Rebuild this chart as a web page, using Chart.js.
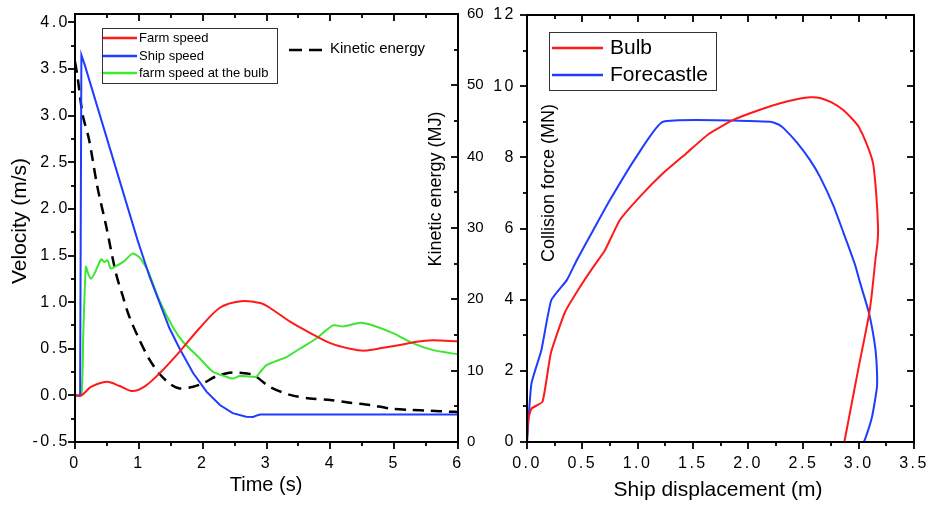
<!DOCTYPE html>
<html>
<head>
<meta charset="utf-8">
<script src="https://cdn.jsdelivr.net/npm/chart.js@4.4.0/dist/chart.umd.min.js"></script>
<style>
  html, body { margin: 0; padding: 0; background: #fff; }
  #wrap { position: relative; width: 928px; height: 505px; overflow: hidden; }
  #velChart { position: absolute; left: 0; top: 0; }
  #forceChart { position: absolute; left: 460px; top: 0; }
</style>
</head>
<body>
<div id="wrap">
  <canvas id="velChart" width="500" height="505"></canvas>
  <canvas id="forceChart" width="468" height="505"></canvas>
</div>
<script>
// left panel: velocities (m/s) and kinetic energy (MJ) against time (s)
const farmT = [0, 0.1, 0.25, 0.5, 0.7, 0.9, 1.1, 1.33, 1.64, 1.95, 2.27, 2.6, 2.9, 3.05, 3.37, 3.68, 4.0, 4.31, 4.54, 4.83, 5.09, 5.35, 5.6, 6.0];
const farmV = [0, 0, 0.09, 0.146, 0.1, 0.046, 0.1, 0.24, 0.47, 0.72, 0.94, 1.01, 0.99, 0.94, 0.79, 0.67, 0.56, 0.5, 0.48, 0.51, 0.54, 0.575, 0.59, 0.58];

const shipT = [0, 0.08, 0.1, 0.15, 0.98, 1.17, 1.48, 1.64, 1.85, 2.06, 2.27, 2.47, 2.68, 2.79, 2.85, 2.9, 6.0];
const shipV = [0, 0, 3.65, 3.55, 1.665, 1.27, 0.72, 0.5, 0.24, 0.04, -0.104, -0.19, -0.23, -0.232, -0.215, -0.205, -0.205];

const bulbT = [0, 0.1, 0.13, 0.17, 0.21, 0.25, 0.3, 0.41, 0.46, 0.51, 0.56, 0.64, 0.77, 0.9, 1.01, 1.14, 1.32, 1.53, 1.69, 1.95, 2.16, 2.37, 2.47, 2.58, 2.79, 2.84, 3.0, 3.31, 3.52, 3.78, 4.04, 4.2, 4.47, 4.67, 4.99, 5.3, 5.61, 6.0];
const bulbV = [0, 0, 0.67, 1.38, 1.3, 1.25, 1.3, 1.46, 1.43, 1.45, 1.36, 1.385, 1.44, 1.52, 1.48, 1.34, 1.02, 0.735, 0.575, 0.4, 0.253, 0.2, 0.18, 0.207, 0.2, 0.2, 0.325, 0.41, 0.5, 0.61, 0.75, 0.74, 0.78, 0.75, 0.665, 0.557, 0.485, 0.44];

const keT = [0, 0.04, 0.12, 0.22, 0.35, 0.49, 0.64, 0.75, 0.85, 1.01, 1.17, 1.32, 1.48, 1.64, 1.85, 2.0, 2.21, 2.42, 2.58, 2.79, 3.05, 3.37, 3.68, 4.0, 4.31, 4.62, 4.93, 5.25, 5.56, 5.87, 6.0];
const keE = [53.3, 51.2, 45.9, 42.4, 35.8, 30.2, 23.7, 20.4, 17.6, 14.3, 11.5, 9.6, 8.2, 7.5, 7.75, 8.2, 9.2, 9.7, 9.7, 9.4, 7.75, 6.6, 6.1, 5.9, 5.5, 5.2, 4.7, 4.5, 4.4, 4.25, 4.2];

// right panel: collision force (MN) against ship displacement (m)
const bulbDisp = [0, 0.01, 0.04, 0.14, 0.215, 0.345, 0.48, 0.6, 0.705, 0.84, 1.02, 1.23, 1.44, 1.64, 1.865, 2.1, 2.29, 2.45, 2.56, 2.65, 2.75, 2.86, 2.95, 3.0, 3.07, 3.13, 3.16, 3.175, 3.17, 3.15, 3.12, 3.09, 3.0, 2.87];
const bulbForce = [0, 0.6, 0.94, 1.13, 2.49, 3.66, 4.36, 4.92, 5.39, 6.24, 6.89, 7.55, 8.11, 8.65, 9.05, 9.33, 9.52, 9.64, 9.69, 9.67, 9.55, 9.33, 9.05, 8.86, 8.39, 7.83, 6.9, 6.0, 5.6, 5.1, 4.2, 3.52, 2.11, 0];

const foreDisp = [0, 0.04, 0.13, 0.22, 0.36, 0.45, 0.6, 0.75, 0.99, 1.23, 2.2, 2.27, 2.32, 2.44, 2.56, 2.65, 2.77, 2.86, 2.92, 2.97, 3.01, 3.09, 3.14, 3.16, 3.165, 3.12, 3.06, 3.04, 1.19];
const foreForce = [0, 1.64, 2.58, 3.99, 4.55, 5.11, 5.96, 6.8, 8.02, 9.0, 9.0, 8.93, 8.82, 8.42, 7.92, 7.45, 6.65, 5.9, 5.39, 4.95, 4.5, 3.66, 2.86, 2.3, 1.55, 0.7, 0.1, 0, 0];

const velLabels = ["Farm speed", "Ship speed", "farm speed at the bulb"];
const keLabel = "Kinetic energy";
const forceLabels = ["Bulb", "Forecastle"];

const RED = "#ff1a1a";
const BLUE = "#1f3cff";
const GREEN = "#3ee632";
const FONT = "'Liberation Sans', Arial, sans-serif";

Chart.defaults.font.family = FONT;
Chart.defaults.color = "#000";

const pts = (xs, ys) => xs.map((x, i) => ({ x: x, y: ys[i] }));

// keep the plot area where the figure has it, whatever the label widths
function fixSize(key, size) {
  return function (s) {
    s[key] = size;
    s.paddingLeft = 0;
    s.paddingRight = 0;
    s.paddingTop = 0;
    s.paddingBottom = 0;
  };
}

// frame round the plot area, with major and minor ticks (out on left/bottom, in on top/right)
const frameTicks = {
  id: "frameTicks",
  beforeDraw(chart) {
    // the figure's tick numbers are set wide
    chart.ctx.letterSpacing = "2.5px";
  },
  beforeDatasetsDraw(chart) {
    chart.ctx.letterSpacing = "0px";
  },
  afterDatasetsDraw(chart, args, opts) {
    const { ctx, chartArea: a } = chart;
    ctx.save();
    ctx.strokeStyle = "#000";
    ctx.lineWidth = 2;
    ctx.strokeRect(a.left, a.top, a.right - a.left, a.bottom - a.top);
    ctx.lineWidth = 1.8;
    opts.marks.forEach((m) => {
      const scale = chart.scales[m.scale];
      const vals = scale.ticks.map((t) => t.value);
      const list = [];
      vals.forEach((v, i) => {
        list.push([v, 7]);
        if (i < vals.length - 1) list.push([(v + vals[i + 1]) / 2, 4]);
      });
      list.forEach(([v, len]) => {
        const p = Math.round(scale.getPixelForValue(v));
        ctx.beginPath();
        if (m.side === "bottom") { ctx.moveTo(p, a.bottom); ctx.lineTo(p, a.bottom + len); }
        if (m.side === "top") { ctx.moveTo(p, a.top); ctx.lineTo(p, a.top + len); }
        if (m.side === "left") { ctx.moveTo(a.left, p); ctx.lineTo(a.left - len, p); }
        if (m.side === "right") { ctx.moveTo(a.right, p); ctx.lineTo(a.right - len, p); }
        ctx.stroke();
      });
    });
    ctx.restore();
  },
};

// axis titles and legends placed where the figure has them
const freeText = {
  id: "freeText",
  afterDraw(chart, args, opts) {
    const ctx = chart.ctx;
    ctx.save();
    ctx.letterSpacing = "0px";
    (opts.boxes || []).forEach((b) => {
      ctx.strokeStyle = "#333";
      ctx.lineWidth = 1;
      ctx.strokeRect(b[0] + 0.5, b[1] + 0.5, b[2], b[3]);
    });
    (opts.lines || []).forEach((l) => {
      ctx.strokeStyle = l.color;
      ctx.lineWidth = l.width || 2.5;
      ctx.setLineDash(l.dash || []);
      ctx.beginPath();
      ctx.moveTo(l.x1, l.y);
      ctx.lineTo(l.x2, l.y);
      ctx.stroke();
    });
    ctx.setLineDash([]);
    (opts.items || []).forEach((t) => {
      ctx.save();
      ctx.translate(t.x, t.y);
      ctx.rotate(t.rot || 0);
      ctx.font = t.font;
      ctx.fillStyle = "#000";
      ctx.textAlign = t.align || "center";
      ctx.textBaseline = "middle";
      ctx.fillText(t.text, 0, 0);
      ctx.restore();
    });
    ctx.restore();
  },
};

const tickFont = { size: 16 };
const noGrid = { display: false, drawTicks: false };
const noBorder = { display: false };

new Chart(document.getElementById("velChart"), {
  type: "scatter",
  data: {
    datasets: [
      { label: velLabels[0], data: pts(farmT, farmV), showLine: true, borderColor: RED, borderWidth: 2, pointRadius: 0, tension: 0.3, yAxisID: "y" },
      { label: velLabels[1], data: pts(shipT, shipV), showLine: true, borderColor: BLUE, borderWidth: 2, pointRadius: 0, tension: 0, yAxisID: "y" },
      { label: velLabels[2], data: pts(bulbT, bulbV), showLine: true, borderColor: GREEN, borderWidth: 2, pointRadius: 0, tension: 0.2, yAxisID: "y" },
      { label: keLabel, data: pts(keT, keE), showLine: true, borderColor: "#000", borderWidth: 2.5, borderDash: [11, 7], pointRadius: 0, tension: 0.3, yAxisID: "y2" },
    ],
  },
  options: {
    responsive: false,
    animation: false,
    layout: { padding: { top: 14, left: 0, right: 0, bottom: 0 } },
    plugins: {
      legend: { display: false },
      tooltip: { enabled: false },
      frameTicks: { marks: [
        { scale: "x", side: "bottom" }, { scale: "x", side: "top" },
        { scale: "y", side: "left" }, { scale: "y2", side: "right" },
      ] },
      freeText: {
        boxes: [[102, 28, 175, 55]],
        lines: [
          { x1: 103, x2: 137, y: 38, color: RED },
          { x1: 103, x2: 137, y: 56, color: BLUE },
          { x1: 103, x2: 137, y: 73, color: GREEN },
          { x1: 289, x2: 322, y: 50, color: "#000", dash: [13, 7] },
        ],
        items: [
          { text: velLabels[0], x: 139, y: 38, font: "13px " + FONT, align: "left" },
          { text: velLabels[1], x: 139, y: 56, font: "13px " + FONT, align: "left" },
          { text: velLabels[2], x: 139, y: 73, font: "13px " + FONT, align: "left" },
          { text: keLabel, x: 330, y: 49, font: "15px " + FONT, align: "left" },
          { text: "Velocity (m/s)", x: 20, y: 221, rot: -Math.PI / 2, font: "21px " + FONT },
          { text: "Time (s)", x: 266, y: 485, font: "20px " + FONT },
          { text: "Kinetic energy (MJ)", x: 436, y: 189, rot: -Math.PI / 2, font: "18px " + FONT },
        ],
      },
    },
    scales: {
      x: {
        type: "linear", position: "bottom", min: 0, max: 6,
        ticks: { stepSize: 1, font: tickFont, padding: 12, includeBounds: false },
        grid: noGrid, border: noBorder,
        afterFit: fixSize("height", 63),
      },
      y: {
        type: "linear", position: "left", min: -0.5, max: 4.09,
        ticks: { stepSize: 0.5, font: tickFont, padding: 5, includeBounds: false, callback: (v) => v.toFixed(1) },
        grid: noGrid, border: noBorder,
        afterFit: fixSize("width", 75),
      },
      y2: {
        type: "linear", position: "right", min: 0, max: 60,
        ticks: { stepSize: 10, font: { size: 15 }, padding: 9, z: 1 },
        grid: noGrid, border: noBorder,
        afterFit: fixSize("width", 42),
      },
    },
  },
  plugins: [frameTicks, freeText],
});

new Chart(document.getElementById("forceChart"), {
  type: "scatter",
  data: {
    datasets: [
      { label: forceLabels[0], data: pts(bulbDisp, bulbForce), showLine: true, borderColor: RED, borderWidth: 2, pointRadius: 0, tension: 0.15 },
      { label: forceLabels[1], data: pts(foreDisp, foreForce), showLine: true, borderColor: BLUE, borderWidth: 2, pointRadius: 0, tension: 0.15 },
    ],
  },
  options: {
    responsive: false,
    animation: false,
    layout: { padding: { top: 15, left: 0, right: 14, bottom: 0 } },
    plugins: {
      legend: { display: false },
      tooltip: { enabled: false },
      frameTicks: { marks: [
        { scale: "x", side: "bottom" }, { scale: "x", side: "top" },
        { scale: "y", side: "left" }, { scale: "y", side: "right" },
      ] },
      freeText: {
        boxes: [[89, 32, 167, 58]],
        lines: [
          { x1: 92, x2: 143, y: 48, color: RED },
          { x1: 92, x2: 143, y: 75, color: BLUE },
        ],
        items: [
          { text: forceLabels[0], x: 150, y: 48, font: "21px " + FONT, align: "left" },
          { text: forceLabels[1], x: 150, y: 75, font: "21px " + FONT, align: "left" },
          { text: "Collision force (MN)", x: 89, y: 183, rot: -Math.PI / 2, font: "18px " + FONT },
          { text: "Ship displacement (m)", x: 258, y: 490, font: "21px " + FONT },
        ],
      },
    },
    scales: {
      x: {
        type: "linear", position: "bottom", min: 0, max: 3.5,
        ticks: { stepSize: 0.5, font: tickFont, padding: 12, callback: (v) => v.toFixed(1) },
        grid: noGrid, border: noBorder,
        afterFit: fixSize("height", 63),
      },
      y: {
        type: "linear", position: "left", min: 0, max: 12,
        ticks: { stepSize: 2, font: tickFont, padding: 11, includeBounds: false },
        grid: noGrid, border: noBorder,
        afterFit: fixSize("width", 67),
      },
    },
  },
  plugins: [frameTicks, freeText],
});
</script>
</body>
</html>
